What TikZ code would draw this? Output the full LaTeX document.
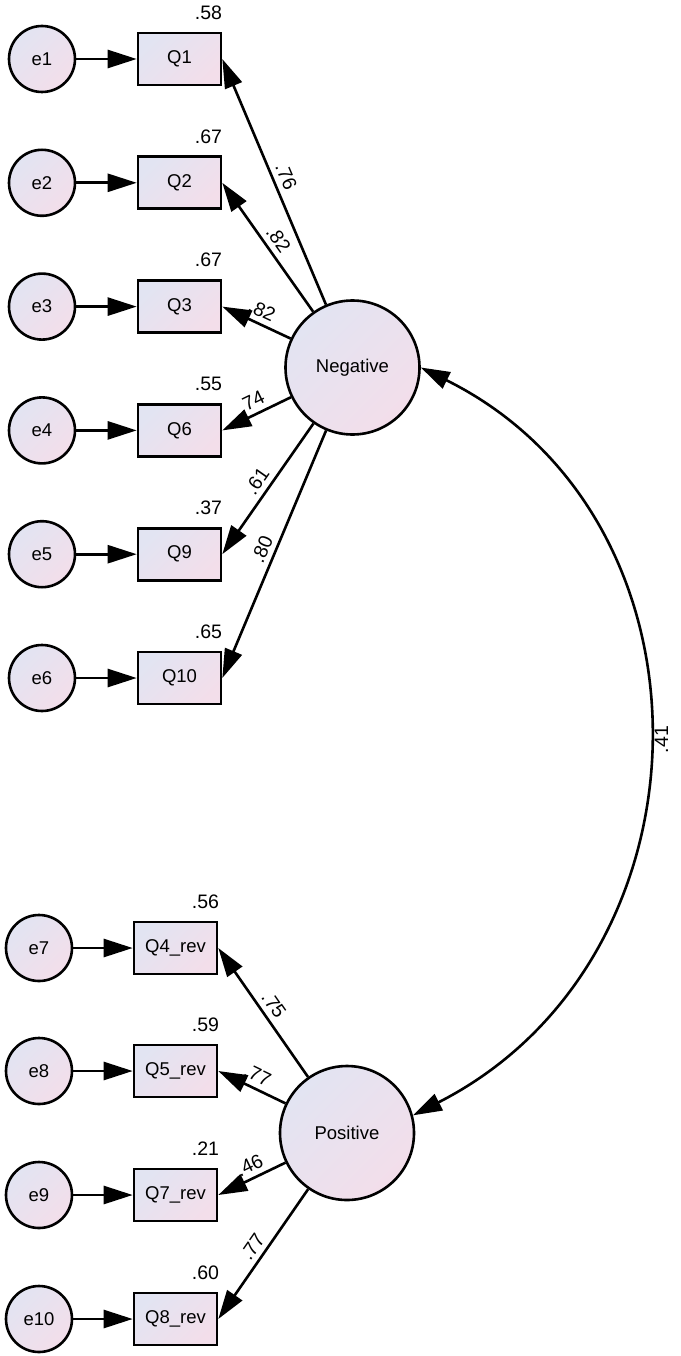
\documentclass[tikz,border=0pt]{standalone}
\usepackage{fontspec}
\setmainfont{Liberation Sans}
\usetikzlibrary{arrows.meta}
\definecolor{lav}{RGB}{226,228,242}
\definecolor{pnk}{RGB}{243,222,234}
\begin{document}
\begin{tikzpicture}[x=1pt,y=-1pt,line width=2.6pt,
  font=\fontsize{18.5}{22}\selectfont,
  grad/.style={top color=lav,bottom color=pnk,shading angle=45},
  err/.style={circle,draw,minimum size=66pt,inner sep=0pt,grad},
  obs/.style={rectangle,draw,minimum width=83pt,minimum height=52pt,inner sep=0pt,grad},
  lat/.style={circle,draw,minimum size=134pt,inner sep=0pt,grad},
  arr/.style={-{Triangle[length=29pt,width=18pt]}},
  num/.style={font=\fontsize{19.5}{22}\selectfont},
  r2/.style={num,anchor=south east,inner sep=0pt},
  ld/.style={num,sloped,above,inner sep=5pt}]
\fill[white] (0,0) rectangle (680,1356);
\useasboundingbox (0,0) rectangle (680,1356);

% latent variables
\node[lat] (neg) at (352.5,367.5) {Negative};
\node[lat] (pos) at (347,1133) {Positive};

% top indicators
\node[obs] (q1)  at (179.5,59)    {Q1};
\node[obs] (q2)  at (179.5,182.8) {Q2};
\node[obs] (q3)  at (179.5,306.6) {Q3};
\node[obs] (q6)  at (179.5,430.4) {Q6};
\node[obs] (q9)  at (179.5,554.2) {Q9};
\node[obs] (q10) at (179.5,678)   {Q10};

\node[err] (e1) at (42,59)    {e1};
\node[err] (e2) at (42,182.8) {e2};
\node[err] (e3) at (42,306.6) {e3};
\node[err] (e4) at (42,430.4) {e4};
\node[err] (e5) at (42,554.2) {e5};
\node[err] (e6) at (42,678)   {e6};

% bottom indicators
\node[obs] (q4) at (175.5,948)  {Q4\_rev};
\node[obs] (q5) at (175.5,1071) {Q5\_rev};
\node[obs] (q7) at (175.5,1195) {Q7\_rev};
\node[obs] (q8) at (175.5,1319) {Q8\_rev};

\node[err] (e7)  at (39,948)  {e7};
\node[err] (e8)  at (39,1071) {e8};
\node[err] (e9)  at (39,1195) {e9};
\node[err] (e10) at (39,1319) {e10};

% R-squared values
\node[r2] (r1)  at ([xshift=1pt,yshift=11pt]q1.north east)  {.58};
\node[r2] (r2a) at ([xshift=1pt,yshift=11pt]q2.north east)  {.67};
\node[r2] (r3)  at ([xshift=1pt,yshift=11pt]q3.north east)  {.67};
\node[r2] (r6)  at ([xshift=1pt,yshift=11pt]q6.north east)  {.55};
\node[r2] (r9)  at ([xshift=1pt,yshift=11pt]q9.north east)  {.37};
\node[r2] (r10) at ([xshift=1pt,yshift=11pt]q10.north east) {.65};
\node[r2] (r4)  at ([xshift=2pt,yshift=11pt]q4.north east)  {.56};
\node[r2] (r5)  at ([xshift=2pt,yshift=11pt]q5.north east)  {.59};
\node[r2] (r7)  at ([xshift=2pt,yshift=11pt]q7.north east)  {.21};
\node[r2] (r8)  at ([xshift=2pt,yshift=11pt]q8.north east)  {.60};

% error arrows
\foreach \e/\q in {e1/q1,e2/q2,e3/q3,e4/q6,e5/q9,e6/q10,e7/q4,e8/q5,e9/q7,e10/q8}
  \draw[arr] (\e) -- (\q);

% loadings
\draw[arr] (neg) -- node[ld] {.76} (q1.east);
\draw[arr] (neg) -- node[ld] {.82} (q2.east);
\draw[arr] (neg) -- node[ld] {.82} (q3.east);
\draw[arr] (neg) -- node[ld] {.74} (q6.east);
\draw[arr] (neg) -- node[ld] {.61} (q9.east);
\draw[arr] (neg) -- node[ld] {.80} (q10.east);

\draw[arr] (pos) -- node[ld] {.75} (q4.east);
\draw[arr] (pos) -- node[ld] {.77} (q5.east);
\draw[arr] (pos) -- node[ld,pos=0.45] {.46} (q7.east);
\draw[arr] (pos) -- node[ld] {.77} (q8.east);

% covariance
\draw[{Triangle[length=29pt,width=18pt]}-{Triangle[length=29pt,width=18pt]}]
  (neg.east) .. controls (726,519) and (720,959) .. (pos.15)
  node[num,pos=0.5,anchor=north,rotate=90,inner sep=7pt] (cov) {.41};
\end{tikzpicture}
\end{document}
